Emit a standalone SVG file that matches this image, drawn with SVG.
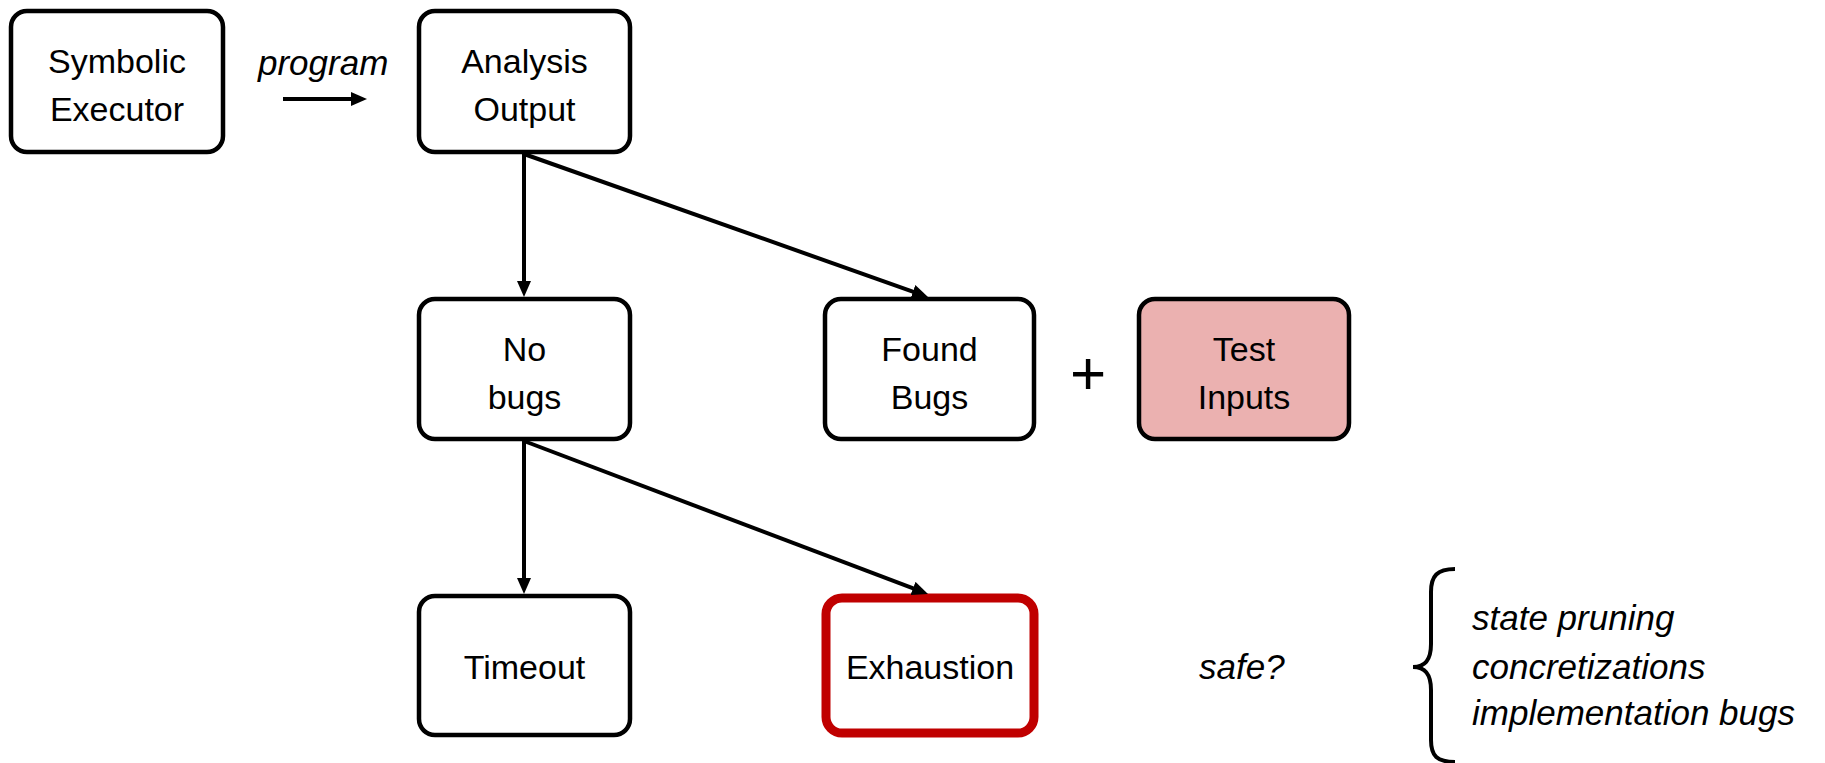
<svg xmlns="http://www.w3.org/2000/svg" width="1825" height="763" viewBox="0 0 1825 763">
  <defs>
    <style>
      .box { fill: #ffffff; stroke: #000000; stroke-width: 4.5; }
      .hot { fill: #ffffff; stroke: #c00000; stroke-width: 9; }
      .pink { fill: #ebb1b0; stroke: #000000; stroke-width: 4.5; }
      .lbl { font-family: "Liberation Sans", Arial, sans-serif; font-size: 34px; fill: #000000; text-anchor: middle; }
      .it { font-family: "Liberation Sans", Arial, sans-serif; font-size: 35px; font-style: italic; fill: #000000; }
      .edge { stroke: #000000; stroke-width: 4; fill: none; marker-end: url(#head); }
    </style>
    <!-- arrowhead reaches 8px past the end of its line -->
    <marker id="head" markerUnits="userSpaceOnUse" markerWidth="16" markerHeight="14" refX="8" refY="7" orient="auto">
      <path d="M0,0 L16,7 L0,14 z" fill="#000000"/>
    </marker>
  </defs>
  <rect width="1825" height="763" fill="#ffffff"/>

  <g id="symbolic-executor">
    <rect class="box" x="11" y="11" width="212" height="141" rx="16"/>
    <text class="lbl" x="117" y="73">Symbolic</text>
    <text class="lbl" x="117" y="121">Executor</text>
  </g>

  <g id="analysis-output">
    <rect class="box" x="419" y="11" width="211" height="141" rx="16"/>
    <text class="lbl" x="524.5" y="73">Analysis</text>
    <text class="lbl" x="524.5" y="121">Output</text>
  </g>

  <g id="no-bugs">
    <rect class="box" x="419" y="299" width="211" height="140" rx="16"/>
    <text class="lbl" x="524.5" y="361">No</text>
    <text class="lbl" x="524.5" y="409">bugs</text>
  </g>

  <g id="found-bugs">
    <rect class="box" x="825" y="299" width="209" height="140" rx="16"/>
    <text class="lbl" x="929.5" y="361">Found</text>
    <text class="lbl" x="929.5" y="409">Bugs</text>
  </g>

  <g id="plus">
    <text class="lbl" x="1088" y="394" style="font-size:62px">+</text>
  </g>

  <g id="test-inputs">
    <rect class="pink" x="1139" y="299" width="210" height="140" rx="16"/>
    <text class="lbl" x="1244" y="361">Test</text>
    <text class="lbl" x="1244" y="409">Inputs</text>
  </g>

  <g id="timeout">
    <rect class="box" x="419" y="596" width="211" height="139" rx="16"/>
    <text class="lbl" x="524.5" y="679">Timeout</text>
  </g>

  <g id="exhaustion">
    <rect class="hot" x="826" y="598" width="208" height="135" rx="16"/>
    <text class="lbl" x="930" y="679">Exhaustion</text>
  </g>

  <g id="connectors">
    <line class="edge" x1="283" y1="99" x2="359" y2="99"/>
    <line class="edge" x1="524" y1="154" x2="524" y2="289"/>
    <line class="edge" x1="524" y1="154" x2="920.5" y2="294.3"/>
    <line class="edge" x1="524" y1="441" x2="524" y2="586"/>
    <line class="edge" x1="524" y1="441" x2="920.5" y2="591.2"/>
  </g>

  <g id="annotations">
    <text class="it" x="258" y="75">program</text>
    <text class="it" x="1199" y="679">safe?</text>
    <path d="M1455,569 C1437,569 1431,576 1431,592 L1431,644 C1431,660 1425,667 1413,667 C1425,667 1431,674 1431,690 L1431,740 C1431,756 1437,762 1455,762" fill="none" stroke="#000000" stroke-width="4"/>
    <text class="it" x="1472" y="630">state pruning</text>
    <text class="it" x="1472" y="679">concretizations</text>
    <text class="it" x="1472" y="725">implementation bugs</text>
  </g>
</svg>
